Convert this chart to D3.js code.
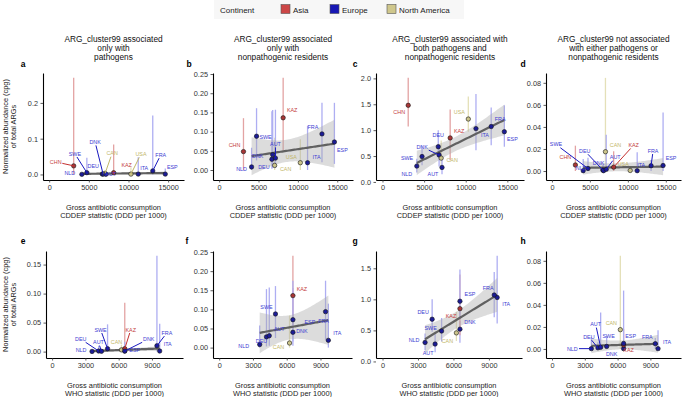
<!DOCTYPE html>
<html><head><meta charset="utf-8">
<script src="https://cdn.jsdelivr.net/npm/d3@7"></script>
<style>
body{margin:0;background:#fff}
svg{display:block}
text{font-family:"Liberation Sans",Arial,Helvetica,sans-serif}
</style>
</head><body>
<svg id="chart" width="685" height="397"></svg>
<script>
// ---------------- DATA ----------------
const countries = ["CHN","NLD","SWE","DEU","DNK","CAN","AUT","KAZ","USA","ITA","FRA","ESP"];
const continentOf = ["Asia","Europe","Europe","Europe","Europe","North America","Europe","Asia","North America","Europe","Europe","Europe"];
// gross antibiotic consumption (DDD per 1000)
const cddepConsumption = [3090, 4120, 4750, 6700, 6800, 7050, 7150, 8130, 10310, 11230, 13060, 14640];
const whoConsumption   = [null, 3600, 5000, 4200, 6550, 6250, 4450, 6550, null, 9700, 9450, 6550];

// normalized abundance (cpg) of total ARGs: value, lower, upper
const onlyPathY  = [0.024, 0.0003, 0.005, 0.001, 0.001, 0.003, 0.0005, 0.005, 0.001, 0.001, 0.010, 0.001];
const onlyPathLo = [0, 0, 0, 0, 0, 0, 0, 0, 0, 0, 0, 0];
const onlyPathHi = [0.270, 0.002, 0.047, 0.010, 0.006, 0.012, 0.003, 0.084, 0.020, 0.048, 0.165, 0.017];

const onlyResY  = [0.048, 0.008, 0.088, 0.028, 0.040, 0.012, 0.031, 0.136, 0.019, 0.019, 0.094, 0.073];
const onlyResLo = [0, 0, 0.025, 0.003, 0.005, 0, 0.005, 0.050, 0, 0, 0.020, 0.016];
const onlyResHi = [0.135, 0.058, 0.161, 0.153, 0.156, 0.084, 0.157, 0.240, 0.080, 0.115, 0.175, 0.175];

const bothY  = [1.48, 0.306, 0.49, 0.68, 0.52, 0.46, 0.28, 0.85, 1.215, 1.03, 1.07, 0.97];
const bothLo = [1.07, 0.18, 0.32, 0.48, 0.30, 0.33, 0.15, 0.42, 0.97, 0.61, 0.71, 0.68];
const bothHi = [2.01, 0.45, 0.70, 1.00, 0.65, 0.80, 0.44, 1.40, 1.65, 1.70, 1.44, 1.48];

const neitherY  = [0.0055, 0.0003, 0.0023, 0.001, 0.0003, 0.0175, 0.0015, 0.0035, 0.0005, 0.0003, 0.0048, 0.005];
const neitherLo = [0, 0, 0, 0, 0, 0, 0, 0, 0, 0, 0, 0];
const neitherHi = [0.023, 0.011, 0.012, 0.006, 0.006, 0.0845, 0.033, 0.018, 0.003, 0.017, 0.010, 0.053];

const regressionExcluded = ["CHN"];

const continents = ["Asia","Europe","North America"];
const panelTitles = [
  ["ARG_cluster99 associated","only with","pathogens"],
  ["ARG_cluster99 associated","only with","nonpathogenic residents"],
  ["ARG_cluster99 associated with","both pathogens and","nonpathogenic residents"],
  ["ARG_cluster99 not associated","with either pathogens or","nonpathogenic residents"]
];
const panelLetters = [["a","b","c","d"],["e","f","g","h"]];
const xTitleLines = [["Gross antibiotic consumption","CDDEP statistic (DDD per 1000)"],
                     ["Gross antibiotic consumption","WHO statistic (DDD per 1000)"]];
const yTitleLines = ["Normalized abundance (cpg)","of total ARGs"];
const xTickValues = [[0,5000,10000,15000],[0,3000,6000,9000]];
const yTickValues = [
  [[0,0.1,0.2],[0,0.05,0.10,0.15,0.20,0.25],[0,0.5,1.0,1.5,2.0],[0,0.02,0.04,0.06,0.08]],
  [[0,0.05,0.10,0.15],[0,0.05,0.10,0.15,0.20,0.25],[0,0.5,1.0,1.5],[0,0.02,0.04,0.06,0.08]]
];
const yTickFormats = [[".1f",".2f",".1f",".2f"],[".2f",".2f",".1f",".2f"]];

// ---------------- LAYOUT / STYLE ----------------
const groups = [
  {y: onlyPathY, lo: onlyPathLo, hi: onlyPathHi},
  {y: onlyResY, lo: onlyResLo, hi: onlyResHi},
  {y: bothY, lo: bothLo, hi: bothHi},
  {y: neitherY, lo: neitherLo, hi: neitherHi}
];
const rowBox = [{top:73, bottom:180}, {top:251, bottom:358}];
const colLeft = [[43,213,376,546],[46,213,376,546]];
const colRight = [[184,353,524,681],[183,352,522,681]];
const xDomains = [[-780,17000],[-550,11800]];
const letterX = [[23,189,355,523],[23,187,355,523]];

const pointFill = {"Asia":"#a83636","Europe":"#1c1c96","North America":"#cbc48a"};
const barColor  = {"Asia":"#e3a3a3","Europe":"#aeaef2","North America":"#e4e0b8"};
const labColor  = {"Asia":"#c43c3c","Europe":"#3c3cd2","North America":"#c2b668"};
const segColor  = {"Asia":"#c43030","Europe":"#1818c0","North America":"#c2b668"};
const swatch    = {"Asia":"#cc4646","Europe":"#1717b4","North America":"#cfc78c"};

// label offsets in pixels [dx, dy, drawSegment]
const labelLayout = {
  a:{CHN:[-18,-4,1],NLD:[-12,-1,0],SWE:[-12,-19,1],DEU:[-9,-8,0],DNK:[-8,-32,1],CAN:[7,-20,1],AUT:[5,0,0],KAZ:[13,-8,0],USA:[10,-20,1],ITA:[6,-6,0],FRA:[8,-16,1],ESP:[7,-7,0]},
  b:{CHN:[-9,-6,0],NLD:[-10,2,0],SWE:[9,1,0],DEU:[-8,8,0],DNK:[-15,1,0],AUT:[0,-14,1],CAN:[11,4,0],KAZ:[9,-8,0],USA:[-9,-6,0],ITA:[9,-6,0],FRA:[-9,-7,0],ESP:[8,8,0]},
  c:{CHN:[-9,7,0],NLD:[-10,8,0],SWE:[-15,2,0],DNK:[-17,-8,1],DEU:[0,-12,0],CAN:[11,2,0],AUT:[-9,7,0],KAZ:[9,-7,0],USA:[-9,-7,0],ITA:[9,7,0],FRA:[9,-7,0],ESP:[8,7,0]},
  d:{SWE:[-32,-24,1],CHN:[-10,-8,0],DEU:[-18,-19,1],NLD:[-2,-3,0],DNK:[-5,-8,0],AUT:[9,-12,1],CAN:[10,-7,0],KAZ:[20,-22,1],USA:[-7,-6,0],ITA:[4,-6,0],FRA:[2,-15,1],ESP:[8,-7,0]},
  e:{DEU:[-18,-12,1],AUT:[-3,-9,1],NLD:[-11,-1,0],SWE:[-7,-19,1],CAN:[-5,-8,0],KAZ:[6,-19,1],DNK:[24,-12,1],ESP:[10,-1,0],FRA:[10,-13,1],ITA:[8,-7,0]},
  f:{NLD:[-16,2,0],DEU:[-5,4,0],AUT:[10,-7,0],SWE:[-9,-7,0],KAZ:[9,-7,0],ESP:[17,2,0],DNK:[9,-1,0],CAN:[-11,4,0],FRA:[-2,9,0],ITA:[9,-7,0]},
  g:{NLD:[-11,-2,0],AUT:[-7,9,0],DEU:[-9,-7,0],SWE:[-11,-3,0],KAZ:[-9,7,0],CAN:[-9,8,0],ESP:[10,-7,0],DNK:[10,-7,0],FRA:[-6,-7,0],ITA:[9,7,0]},
  h:{NLD:[-19,0,1],DEU:[-9,-11,1],AUT:[-5,-23,1],SWE:[2,-10,0],CAN:[-9,-7,0],ESP:[7,-7,0],KAZ:[5,5,0],DNK:[-12,5,0],FRA:[-8,-7,0],ITA:[9,-7,0]}
};

const tQuant = {7:2.365, 8:2.306, 9:2.262, 10:2.228, 11:2.201};

function lmFit(pts) {
  const n = pts.length;
  const mx = d3.mean(pts, d => d.x), my = d3.mean(pts, d => d.y);
  let sxx = 0, sxy = 0;
  pts.forEach(d => { sxx += (d.x-mx)*(d.x-mx); sxy += (d.x-mx)*(d.y-my); });
  const b = sxy / sxx, a = my - b*mx;
  let sse = 0;
  pts.forEach(d => { const r = d.y - (a + b*d.x); sse += r*r; });
  const s = Math.sqrt(sse/(n-2));
  const t = tQuant[n-2] || 2.2;
  const [x0, x1] = d3.extent(pts, d => d.x);
  const out = [];
  const N = 60;
  for (let i = 0; i <= N; i++) {
    const x = x0 + (x1-x0)*i/N;
    const f = a + b*x;
    const se = s*Math.sqrt(1/n + (x-mx)*(x-mx)/sxx);
    out.push({x, f, lo: f - t*se, hi: f + t*se});
  }
  return out;
}

const svg = d3.select("#chart");

// ---------------- LEGEND ----------------
const lg = svg.append("g");
lg.append("rect").attr("x",214).attr("y",0).attr("width",250).attr("height",19).attr("fill","#f7f7f7");
lg.append("text").attr("x",220).attr("y",13).attr("font-size",8).attr("fill","#222").text("Continent");
const legendX = [281, 330, 387];
continents.forEach((ct, i) => {
  lg.append("rect").attr("x",legendX[i]).attr("y",4.5).attr("width",9).attr("height",9)
    .attr("fill",swatch[ct]).attr("stroke","#555").attr("stroke-width",0.6);
  lg.append("text").attr("x",legendX[i]+12).attr("y",13).attr("font-size",8).attr("fill","#222").text(ct);
});

// ---------------- PANELS ----------------
for (let r = 0; r < 2; r++) {
  for (let c = 0; c < 4; c++) {
    const L = colLeft[r][c], R = colRight[r][c];
    const T = rowBox[r].top, B = rowBox[r].bottom;
    const xs = r === 0 ? cddepConsumption : whoConsumption;
    const g = groups[c];
    const items = countries.map((k, i) => ({k, cont: continentOf[i], x: xs[i], y: g.y[i], lo: g.lo[i], hi: g.hi[i]}))
                           .filter(d => d.x !== null);
    const fitItems = items.filter(d => !regressionExcluded.includes(d.k));
    const band = lmFit(fitItems);

    let ymin = Math.min(d3.min(items, d => d.lo), d3.min(band, d => d.lo));
    let ymax = Math.max(d3.max(items, d => d.hi), d3.max(band, d => d.hi));
    const pad = (ymax - ymin) * 0.05;
    const x = d3.scaleLinear().domain(xDomains[r]).range([L, R]);
    const y = d3.scaleLinear().domain([ymin - pad, ymax + pad]).range([B, T]);

    const pg = svg.append("g");
    const letter = panelLetters[r][c];

    // error bars
    pg.selectAll("line.eb").data(items).enter().append("line")
      .attr("x1", d => x(d.x)).attr("x2", d => x(d.x))
      .attr("y1", d => y(d.lo)).attr("y2", d => y(d.hi))
      .attr("stroke", d => barColor[d.cont]).attr("stroke-width", 1.3);

    // regression band + line
    pg.append("path").datum(band)
      .attr("d", d3.area().x(d => x(d.x)).y0(d => y(d.lo)).y1(d => y(d.hi)))
      .attr("fill", "#a8a8a8").attr("fill-opacity", 0.4);
    pg.append("path").datum(band)
      .attr("d", d3.line().x(d => x(d.x)).y(d => y(d.f)))
      .attr("fill", "none").attr("stroke", "#616161").attr("stroke-width", 2.2);

    // points
    pg.selectAll("circle").data(items).enter().append("circle")
      .attr("cx", d => x(d.x)).attr("cy", d => y(d.y)).attr("r", 2.2)
      .attr("fill", d => pointFill[d.cont]).attr("stroke", "#151515").attr("stroke-width", 0.6);

    // labels and segments
    const lay = labelLayout[letter];
    const fs = 5.4;
    items.forEach(d => {
      const o = lay[d.k] || [8, -6, 0];
      const px = x(d.x), py = y(d.y);
      const lx = px + o[0], ly = py + o[1];
      if (o[2]) {
        const hw = d.k.length * fs * 0.36 + 0.8, hh = fs * 0.5 + 0.6;
        const ux = px - lx, uy = py - ly;
        let s = Math.min(ux !== 0 ? hw/Math.abs(ux) : Infinity, uy !== 0 ? hh/Math.abs(uy) : Infinity);
        if (s > 1) s = 1;
        pg.append("line").attr("x1", px).attr("y1", py)
          .attr("x2", lx + s*ux).attr("y2", ly + s*uy)
          .attr("stroke", segColor[d.cont]).attr("stroke-width", 1);
      }
      pg.append("text").attr("x", lx).attr("y", ly).attr("dy", "0.35em")
        .attr("text-anchor", "middle").attr("font-size", fs)
        .attr("fill", labColor[d.cont]).text(d.k);
    });

    // axes
    const xa = pg.append("g").attr("transform", `translate(0,${B})`)
      .call(d3.axisBottom(x).tickValues(xTickValues[r]).tickFormat(d3.format("d"))
        .tickSize(2.5).tickSizeOuter(0).tickPadding(2.5));
    const ya = pg.append("g").attr("transform", `translate(${L},0)`)
      .call(d3.axisLeft(y).tickValues(yTickValues[r][c]).tickFormat(d3.format(yTickFormats[r][c]))
        .tickSize(2.5).tickSizeOuter(0).tickPadding(2.5));
    [xa, ya].forEach(a => {
      a.select(".domain").attr("stroke", "#000").attr("stroke-width", 1.1);
      a.selectAll(".tick line").attr("stroke", "#333").attr("stroke-width", 0.8);
      a.selectAll(".tick text").attr("font-size", 7.3).attr("fill", "#333")
        .attr("font-family", '"Liberation Sans",Arial,sans-serif');
    });

    // panel letter
    svg.append("text").attr("x", letterX[r][c]).attr("y", r === 0 ? 67 : 244)
      .attr("text-anchor", "middle").attr("font-size", 8.5).attr("font-weight", "bold")
      .attr("fill", "#000").text(letter);

    // x title
    const cx = (L + R) / 2;
    xTitleLines[r].forEach((t, i) => {
      svg.append("text").attr("x", cx).attr("y", B + 29.5 + i*8.2)
        .attr("text-anchor", "middle").attr("font-size", 7.4).attr("fill", "#222").text(t);
    });

    // panel titles (top row)
    if (r === 0) {
      panelTitles[c].forEach((t, i) => {
        svg.append("text").attr("x", cx).attr("y", 42 + i*9.1)
          .attr("text-anchor", "middle").attr("font-size", 8.3).attr("fill", "#111").text(t);
      });
    }

    // y title (first column)
    if (c === 0) {
      const cy = (T + B) / 2;
      yTitleLines.forEach((t, i) => {
        svg.append("text").attr("transform", `translate(${7.8 + i*8.2},${cy}) rotate(-90)`)
          .attr("text-anchor", "middle").attr("font-size", 7.4).attr("fill", "#222").text(t);
      });
    }
  }
}
</script>
</body></html>
